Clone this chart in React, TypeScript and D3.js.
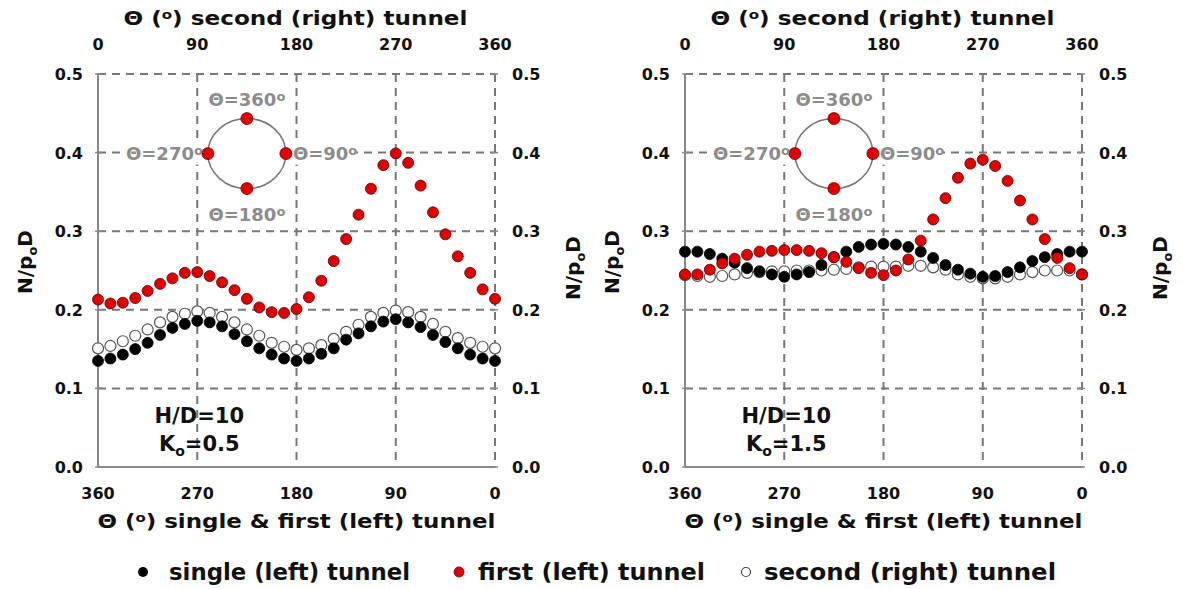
import React from "react";
import * as d3 from "d3";

// θ of the single & first (left) tunnel (bottom axis), left to right
const thetaLeft = [360, 348.75, 337.5, 326.25, 315, 303.75, 292.5, 281.25, 270, 258.75, 247.5, 236.25, 225, 213.75, 202.5, 191.25, 180, 168.75, 157.5, 146.25, 135, 123.75, 112.5, 101.25, 90, 78.75, 67.5, 56.25, 45, 33.75, 22.5, 11.25, 0];
// θ of the second (right) tunnel (top axis), left to right
const thetaRight = [0, 11.25, 22.5, 33.75, 45, 56.25, 67.5, 78.75, 90, 101.25, 112.5, 123.75, 135, 146.25, 157.5, 168.75, 180, 191.25, 202.5, 213.75, 225, 236.25, 247.5, 258.75, 270, 281.25, 292.5, 303.75, 315, 326.25, 337.5, 348.75, 360];

// Panel a: H/D=10, Ko=0.5
const singleA = [0.135, 0.138, 0.143, 0.150, 0.158, 0.168, 0.177, 0.182, 0.186, 0.184, 0.179, 0.169, 0.160, 0.151, 0.143, 0.138, 0.135, 0.138, 0.144, 0.151, 0.162, 0.170, 0.179, 0.185, 0.188, 0.184, 0.178, 0.168, 0.159, 0.151, 0.143, 0.138, 0.135];
const firstA = [0.213, 0.208, 0.209, 0.215, 0.224, 0.233, 0.240, 0.247, 0.248, 0.243, 0.235, 0.225, 0.214, 0.203, 0.197, 0.196, 0.201, 0.216, 0.237, 0.262, 0.290, 0.321, 0.354, 0.384, 0.399, 0.387, 0.358, 0.324, 0.296, 0.268, 0.247, 0.226, 0.214];
const secondA = [0.151, 0.154, 0.160, 0.167, 0.175, 0.184, 0.191, 0.195, 0.198, 0.196, 0.191, 0.184, 0.175, 0.167, 0.158, 0.153, 0.149, 0.151, 0.155, 0.163, 0.172, 0.181, 0.191, 0.196, 0.199, 0.197, 0.191, 0.182, 0.172, 0.164, 0.158, 0.153, 0.151];

// Panel b: H/D=10, Ko=1.5
const singleB = [0.274, 0.274, 0.271, 0.265, 0.260, 0.253, 0.249, 0.245, 0.242, 0.245, 0.248, 0.257, 0.267, 0.274, 0.280, 0.283, 0.284, 0.283, 0.280, 0.274, 0.266, 0.257, 0.251, 0.246, 0.242, 0.243, 0.248, 0.254, 0.262, 0.267, 0.271, 0.274, 0.274];
const firstB = [0.245, 0.245, 0.251, 0.259, 0.265, 0.270, 0.274, 0.275, 0.276, 0.276, 0.275, 0.272, 0.267, 0.261, 0.253, 0.247, 0.244, 0.250, 0.264, 0.288, 0.315, 0.342, 0.368, 0.386, 0.391, 0.383, 0.364, 0.339, 0.315, 0.290, 0.266, 0.253, 0.245];
const secondB = [0.244, 0.243, 0.242, 0.243, 0.245, 0.247, 0.248, 0.249, 0.249, 0.250, 0.250, 0.250, 0.251, 0.252, 0.254, 0.255, 0.255, 0.255, 0.256, 0.256, 0.254, 0.251, 0.245, 0.242, 0.240, 0.240, 0.242, 0.245, 0.248, 0.250, 0.250, 0.250, 0.245];

const yTicks = [0, 0.1, 0.2, 0.3, 0.4, 0.5];
const xTicks = [0, 90, 180, 270, 360];
const panelLabels = ["0.5", "1.5"];

const FONT = "'DejaVu Sans', Verdana, sans-serif";
const GRID = "#777";

// text with a raised small "o" as degree mark: before + o + after
function DegText({ before, after, size, small, rise }: { before: string; after: string; size: number; small: number; rise: number }) {
  return (
    <>
      <tspan>{before}</tspan>
      <tspan fontSize={small} dy={-rise}>o</tspan>
      <tspan fontSize={size} dy={rise}>{after}</tspan>
    </>
  );
}

function Panel({ left, single, first, second, ko }: { left: number; single: number[]; first: number[]; second: number[]; ko: string }) {
  const width = 397;
  const x0 = left;
  const x1 = left + width;
  const yTop = 74;
  const yBot = 467;
  const xBottom = d3.scaleLinear().domain([360, 0]).range([x0, x1]);
  const xTop = d3.scaleLinear().domain([0, 360]).range([x0, x1]);
  const y = d3.scaleLinear().domain([0, 0.5]).range([yBot, yTop]);
  const fmt = d3.format(".1f");
  const cx = xBottom(225);
  const cy = y(0.4) + 1;
  const rx = 39;
  const ry = 35;
  const grayText = "#8c8c8c";
  const mid = (x0 + x1) / 2;
  const insetFs = 18;
  return (
    <g>
      {/* grid */}
      {yTicks.filter((t) => t > 0).map((t) => (
        <line key={"h" + t} x1={x0} x2={x1} y1={y(t)} y2={y(t)} stroke={GRID} strokeWidth={2} strokeDasharray="8,6" />
      ))}
      {[90, 180, 270].map((t) => (
        <line key={"v" + t} x1={xBottom(t)} x2={xBottom(t)} y1={yTop} y2={yBot} stroke={GRID} strokeWidth={2} strokeDasharray="8,6" />
      ))}
      <line x1={x1} x2={x1} y1={yTop} y2={yBot} stroke={GRID} strokeWidth={2} strokeDasharray="8,6" />
      <line x1={x0} x2={x0} y1={yTop} y2={yBot} stroke="#888" strokeWidth={2} />
      <line x1={x0} x2={x1} y1={yBot} y2={yBot} stroke="#888" strokeWidth={2} />
      {yTicks.map((t) => (
        <g key={"t" + t}>
          <line x1={x0 - 3} x2={x0 + 4} y1={y(t)} y2={y(t)} stroke="#888" strokeWidth={1.5} />
          <line x1={x1 - 4} x2={x1 + 3} y1={y(t)} y2={y(t)} stroke="#888" strokeWidth={1.5} />
          <text x={x0 - 15} y={y(t) + 6} textAnchor="end" fontFamily={FONT} fontWeight="bold" fontSize={16} fill="#111">{fmt(t)}</text>
          <text x={x1 + 17} y={y(t) + 6} textAnchor="start" fontFamily={FONT} fontWeight="bold" fontSize={16} fill="#111">{fmt(t)}</text>
        </g>
      ))}
      {xTicks.map((t) => (
        <g key={"x" + t}>
          <text x={xBottom(t)} y={499} textAnchor="middle" fontFamily={FONT} fontWeight="bold" fontSize={16} fill="#111">{t}</text>
          <text x={xTop(t)} y={50} textAnchor="middle" fontFamily={FONT} fontWeight="bold" fontSize={16} fill="#111">{t}</text>
        </g>
      ))}
      {/* axis titles */}
      <text x={mid - 1} y={25} textAnchor="middle" fontFamily={FONT} fontWeight="bold" fontSize={20} fill="#111" textLength={344} lengthAdjust="spacingAndGlyphs">
        <DegText before="Θ (" after=") second (right) tunnel" size={20} small={13} rise={6} />
      </text>
      <text x={mid} y={528} textAnchor="middle" fontFamily={FONT} fontWeight="bold" fontSize={20} fill="#111" textLength={398} lengthAdjust="spacingAndGlyphs">
        <DegText before="Θ (" after=") single & first (left) tunnel" size={20} small={13} rise={6} />
      </text>
      <text transform={`translate(${x0 - 66},262) rotate(-90)`} textAnchor="middle" fontFamily={FONT} fontWeight="bold" fontSize={20} fill="#111">
        N/p<tspan fontSize={13} dy={5}>o</tspan><tspan fontSize={20} dy={-5}>D</tspan>
      </text>
      <text transform={`translate(${x1 + 85},268) rotate(-90)`} textAnchor="middle" fontFamily={FONT} fontWeight="bold" fontSize={20} fill="#111">
        N/p<tspan fontSize={13} dy={5}>o</tspan><tspan fontSize={20} dy={-5}>D</tspan>
      </text>
      {/* inset sketch */}
      <rect x={cx - rx - 86} y={cy - 11} width={84} height={22} fill="#fff" />
      <rect x={cx + rx + 2} y={cy - 11} width={68} height={22} fill="#fff" />
      <ellipse cx={cx} cy={cy} rx={rx} ry={ry} fill="#fff" stroke="#777" strokeWidth={1.5} />
      {[[cx, cy - ry], [cx, cy + ry], [cx - rx, cy], [cx + rx, cy]].map(([px, py], i) => (
        <circle key={"c" + i} cx={px} cy={py} r={6} fill="#e00000" stroke="#700" strokeWidth={0.8} />
      ))}
      <text x={cx} y={cy - 48} textAnchor="middle" fontFamily={FONT} fontWeight="bold" fontSize={insetFs} fill={grayText}>
        <DegText before="Θ=360" after="" size={insetFs} small={13} rise={5} />
      </text>
      <text x={cx} y={cy + 67} textAnchor="middle" fontFamily={FONT} fontWeight="bold" fontSize={insetFs} fill={grayText}>
        <DegText before="Θ=180" after="" size={insetFs} small={13} rise={5} />
      </text>
      <text x={cx - rx - 5} y={cy + 6} textAnchor="end" fontFamily={FONT} fontWeight="bold" fontSize={insetFs} fill={grayText}>
        <DegText before="Θ=270" after="" size={insetFs} small={13} rise={5} />
      </text>
      <text x={cx + rx + 7} y={cy + 6} textAnchor="start" fontFamily={FONT} fontWeight="bold" fontSize={insetFs} fill={grayText}>
        <DegText before="Θ=90" after="" size={insetFs} small={13} rise={5} />
      </text>
      {/* case label */}
      <text x={xBottom(270) + 2} y={423} textAnchor="middle" fontFamily={FONT} fontWeight="bold" fontSize={21} fill="#111">H/D=10</text>
      <text x={xBottom(270) + 2} y={451} textAnchor="middle" fontFamily={FONT} fontWeight="bold" fontSize={21} fill="#111">
        K<tspan fontSize={14} dy={5}>o</tspan><tspan fontSize={21} dy={-5}>={ko}</tspan>
      </text>
      {/* data */}
      {second.map((v, i) => (
        <circle key={"s2" + i} cx={xTop(thetaRight[i])} cy={y(v)} r={5.5} fill="#fff" stroke="#555" strokeWidth={1.2} />
      ))}
      {single.map((v, i) => (
        <circle key={"s1" + i} cx={xBottom(thetaLeft[i])} cy={y(v)} r={5.5} fill="#000" stroke="#000" strokeWidth={0.8} />
      ))}
      {first.map((v, i) => (
        <circle key={"f" + i} cx={xBottom(thetaLeft[i])} cy={y(v)} r={5.5} fill="#e00000" stroke="#500" strokeWidth={0.8} />
      ))}
    </g>
  );
}

export default function App() {
  const legendFont = "'DejaVu Sans Condensed', 'Liberation Sans Narrow', 'DejaVu Sans', sans-serif";
  return (
    <svg width={1183} height={589} style={{ position: "absolute", left: 0, top: 0, background: "#fff" }}>
      <rect width={1183} height={589} fill="#fff" />
      <Panel left={98} single={singleA} first={firstA} second={secondA} ko={panelLabels[0]} />
      <Panel left={685} single={singleB} first={firstB} second={secondB} ko={panelLabels[1]} />
      {/* legend */}
      <circle cx={143} cy={572} r={5} fill="#000" />
      <text x={169} y={580} fontFamily={legendFont} fontWeight="bold" fontSize={23} fill="#111" textLength={241} lengthAdjust="spacingAndGlyphs">single (left) tunnel</text>
      <circle cx={459} cy={572} r={5} fill="#e00000" stroke="#600" strokeWidth={0.8} />
      <text x={478} y={580} fontFamily={legendFont} fontWeight="bold" fontSize={23} fill="#111" textLength={227} lengthAdjust="spacingAndGlyphs">first (left) tunnel</text>
      <circle cx={746} cy={572} r={4.5} fill="#fff" stroke="#444" strokeWidth={1.2} />
      <text x={764} y={580} fontFamily={legendFont} fontWeight="bold" fontSize={23} fill="#111" textLength={292} lengthAdjust="spacingAndGlyphs">second (right) tunnel</text>
    </svg>
  );
}
